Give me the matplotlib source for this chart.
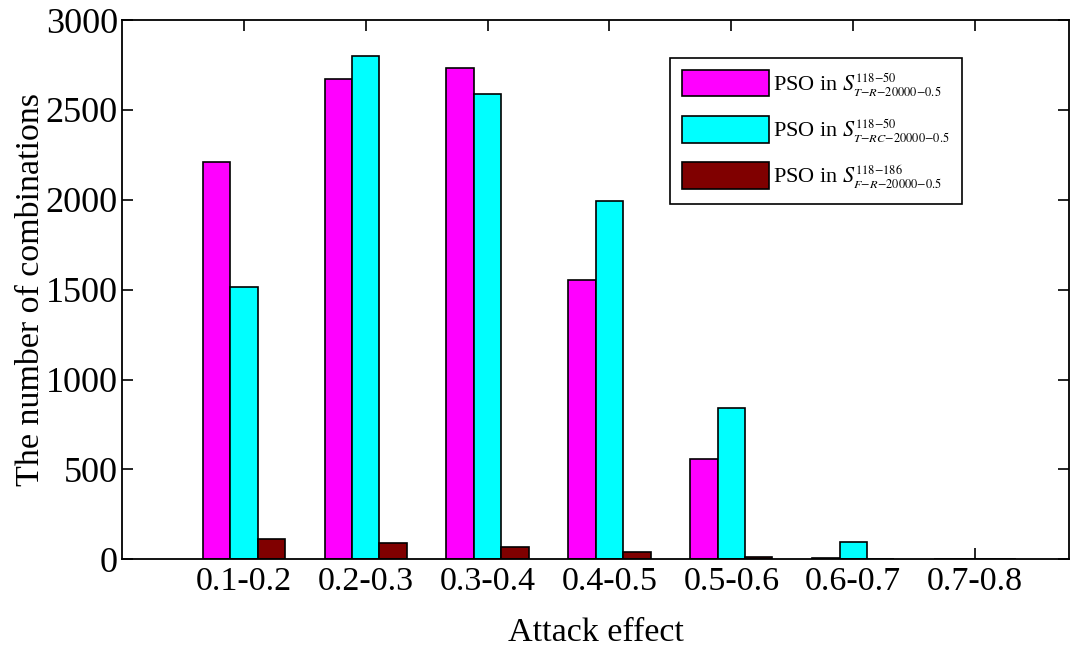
"""Grouped bar chart: number of combinations per attack-effect interval."""

import matplotlib
matplotlib.use("Agg")  # non-interactive backend
import matplotlib.pyplot as plt
import numpy as np

# smaller super/subscripts in the legend math text
try:
    import matplotlib._mathtext as _mt
    _mt.SHRINK_FACTOR = 0.56
except (ImportError, AttributeError):
    pass

# Attack-effect intervals on the x axis
categories = ["0.1-0.2", "0.2-0.3", "0.3-0.4", "0.4-0.5", "0.5-0.6", "0.6-0.7", "0.7-0.8"]

# Number of combinations falling in each interval
pso_t_r = [2210, 2670, 2732, 1553, 560, 5, 2]
pso_t_rc = [1515, 2800, 2586, 1994, 844, 96, 3]
pso_f_r = [111, 89, 68, 41, 15, 4, 2]

labels = [
    r"PSO in $S_{T{-}R{-}20000{-}0.5}^{118{-}50}$",
    r"PSO in $S_{T{-}RC{-}20000{-}0.5}^{118{-}50}$",
    r"PSO in $S_{F{-}R{-}20000{-}0.5}^{118{-}186}$",
]
colors = ["#ff00ff", "#00ffff", "#800000"]

plt.rcParams["font.family"] = "Liberation Serif"
plt.rcParams["mathtext.fontset"] = "stix"

fig = plt.figure(figsize=(10.7, 6.48), dpi=100)
ax = fig.add_axes([0.114, 0.137, 0.885, 0.832])

x = np.arange(1, len(categories) + 1)
width = 0.225
for i, (vals, color, label) in enumerate(zip([pso_t_r, pso_t_rc, pso_f_r], colors, labels)):
    ax.bar(x + (i - 1) * width, vals, width, color=color, edgecolor="black",
           linewidth=1.2, label=label, zorder=2)

ax.set_xlim(0, 7.77)
ax.set_ylim(0, 3000)
ax.set_xticks(x)
ax.set_xticklabels(categories)
ax.set_yticks(range(0, 3001, 500))

ax.tick_params(axis="both", direction="in", length=8, width=1.2, labelsize=24.5,
               top=True, right=True)
ax.tick_params(axis="x", pad=5)
ax.tick_params(axis="y", pad=3, labelsize=26)
for spine in ax.spines.values():
    spine.set_linewidth(1.3)

ax.set_xlabel("Attack effect", fontsize=24.5, labelpad=15)
ax.set_ylabel("The number of combinations", fontsize=24.5, labelpad=0)

leg = ax.legend(loc="upper right", bbox_to_anchor=(0.887, 0.93), fontsize=16,
                handlelength=3.9, handleheight=1.45, labelspacing=0.75,
                handletextpad=0.2, borderpad=0.55, borderaxespad=0,
                fancybox=False, edgecolor="black", framealpha=1)
leg.get_frame().set_linewidth(1.2)

fig.savefig("out.png", dpi=100)
plt.close(fig)
